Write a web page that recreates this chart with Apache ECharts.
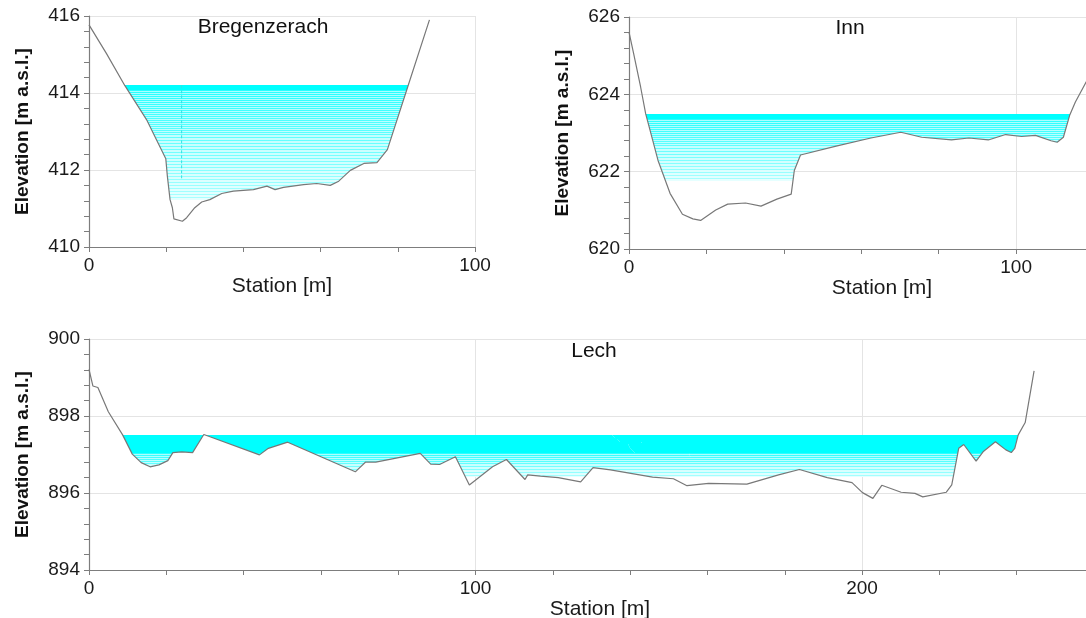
<!DOCTYPE html>
<html><head><meta charset="utf-8">
<script src="https://cdn.jsdelivr.net/npm/echarts@6/dist/echarts.min.js"></script>
<style>html,body{margin:0;padding:0;background:#fff}#c{width:1086px;height:618px}</style>
</head><body><div id="c"></div>
<script>
// ---------- DATA ----------
const titles = ['Bregenzerach', 'Inn', 'Lech'];
const xAxisTitle = 'Station [m]';
const yAxisTitle = 'Elevation [m a.s.l.]';

// Bregenzerach cross-section
const bregStation = [0, 4.5, 9.3, 14.9, 19.9, 20.3, 21.0, 21.6, 22.0, 24.2, 25.3, 27.4, 29.2, 31.3, 34.4, 37.4, 42.6, 46.1, 48.2, 50.4, 55.6, 59.0, 62.5, 64.7, 67.7, 71.2, 74.6, 77.3, 82.6, 88.2];
const bregElevation = [415.77, 415.03, 414.19, 413.31, 412.29, 411.84, 411.23, 411.02, 410.73, 410.67, 410.76, 411.02, 411.17, 411.23, 411.39, 411.45, 411.49, 411.58, 411.49, 411.55, 411.62, 411.65, 411.60, 411.71, 411.99, 412.17, 412.19, 412.53, 414.17, 415.90];
const bregWaterLevel = 414.2;
const bregShadeFloor = 411.23;
const bregGaugeStation = [24.0, 24.0];
const bregGaugeElevation = [414.2, 411.77];
const bregYRange = [410, 416];
const bregXRange = [0, 100];

// Inn cross-section
const innStation = [0, 1.2, 3.0, 4.3, 7.5, 10.6, 13.8, 16.5, 18.5, 22.4, 25.5, 30.1, 34.1, 38.2, 41.9, 42.7, 44.3, 53.5, 62.5, 70.2, 75.6, 83.3, 87.8, 92.8, 97.3, 101.4, 105.0, 109.0, 110.6, 112.2, 113.8, 115.3, 118.3];
const innElevation = [625.61, 625.05, 624.19, 623.50, 622.29, 621.44, 620.90, 620.78, 620.74, 621.01, 621.16, 621.19, 621.11, 621.29, 621.42, 622.03, 622.43, 622.66, 622.87, 623.02, 622.89, 622.82, 622.87, 622.82, 622.96, 622.91, 622.94, 622.80, 622.76, 622.89, 623.45, 623.80, 624.36];
const innWaterLevel = 623.5;
const innShadeFloor = 621.76;
const innYRange = [620, 626];
const innXRange = [0, 130.7];

// Lech cross-section
const lechStation = [0, 1.0, 2.3, 5.0, 8.7, 11.2, 13.5, 15.8, 18.1, 20.4, 21.7, 24.0, 26.8, 29.7, 31.3, 44.1, 46.4, 51.4, 68.9, 71.5, 74.2, 85.7, 88.4, 90.7, 94.8, 98.4, 104.4, 108.0, 112.8, 113.5, 116.8, 121.4, 127.2, 130.4, 134.9, 145.8, 151.2, 154.7, 160.3, 170.2, 178.4, 183.8, 191.0, 197.4, 200.1, 202.8, 205.1, 210.1, 213.7, 215.7, 221.8, 223.2, 225.0, 226.3, 229.5, 231.3, 234.5, 237.2, 238.6, 239.5, 240.4, 242.2, 244.5];
const lechElevation = [899.21, 898.78, 898.74, 898.11, 897.51, 897.01, 896.79, 896.68, 896.73, 896.84, 897.05, 897.07, 897.05, 897.52, 897.46, 896.99, 897.16, 897.32, 896.55, 896.80, 896.80, 897.03, 896.75, 896.74, 896.94, 896.21, 896.68, 896.87, 896.35, 896.47, 896.44, 896.40, 896.29, 896.66, 896.60, 896.41, 896.37, 896.19, 896.25, 896.23, 896.47, 896.61, 896.40, 896.27, 896.01, 895.86, 896.20, 896.02, 895.99, 895.90, 896.02, 896.21, 897.16, 897.26, 896.83, 897.07, 897.33, 897.12, 897.05, 897.16, 897.51, 897.83, 899.17];
const lechWaterLevel = 897.5;
const lechShadeFloor = 896.42;
const lechYRange = [894, 900];
const lechXRange = [0, 264.4];

// ---------- CHART ----------
const FONT = '"Liberation Sans", Arial, sans-serif';
const AXIS_GRAY = '#7d7d7d';
const GRID_GRAY = '#e4e4e4';

function zip(a, b) { return a.map((v, i) => [v, b[i]]); }

function wetSpans(st, el, h) {
  const spans = []; let start = null;
  for (let i = 0; i < st.length - 1; i++) {
    const x0 = st[i], x1 = st[i + 1], e0 = el[i], e1 = el[i + 1];
    const w0 = e0 < h, w1 = e1 < h;
    if (w0 && start === null) start = x0;
    if (w0 && !w1) { spans.push([start, x0 + (h - e0) / (e1 - e0) * (x1 - x0)]); start = null; }
    else if (!w0 && w1) { start = x0 + (h - e0) / (e1 - e0) * (x1 - x0); }
  }
  if (start !== null) spans.push([start, st[st.length - 1]]);
  return spans;
}

function waterSeries(idx, st, el, wl, floor, solid) {
  return {
    type: 'custom', xAxisIndex: idx, yAxisIndex: idx, z: 1, silent: true, clip: true,
    data: [[st[0], wl]],
    renderItem: function (params, api) {
      const top = api.coord([0, wl])[1], bot = api.coord([0, floor])[1];
      const kids = [];
      let y = Math.round(top) + 0.5;
      let nextLine = y;
      while (y <= bot + 0.5) {
        const t = Math.min(1, Math.max(0, (y - top) / (bot - top)));
        const h = wl - t * (wl - floor);
        let color;
        const u = Math.max(0, (t - solid) / (1 - solid));
        if (t <= solid) { color = 'rgb(0,255,255)'; nextLine = y + 1; }
        else if (y >= nextLine) {
          color = 'rgb(' + Math.round(40 + u * 130) + ',255,255)';
          nextLine = y + (u < 0.4 ? 2 : 3);
        } else {
          color = 'rgb(' + Math.round(170 + u * 60) + ',255,255)';
        }
        const spans = wetSpans(st, el, h);
        for (const s of spans) {
          const p = api.coord([s[0], h]), q = api.coord([s[1], h]);
          kids.push({ type: 'line', shape: { x1: p[0], y1: y, x2: q[0], y2: y }, style: { stroke: color, lineWidth: 1 } });
        }
        y += 1;
      }
      return { type: 'group', children: kids };
    }
  };
}

function terrainSeries(idx, st, el) {
  return {
    type: 'line', xAxisIndex: idx, yAxisIndex: idx, z: 3, silent: true,
    data: zip(st, el), symbol: 'none', animation: false,
    lineStyle: { color: '#787878', width: 1.2 }
  };
}

function xAxis(idx, range) {
  return {
    type: 'value', gridIndex: idx, min: range[0], max: range[1], interval: 100,
    name: xAxisTitle, nameLocation: 'middle', nameGap: 29,
    nameTextStyle: { fontFamily: FONT, fontSize: 21, color: '#1a1a1a' },
    axisLine: { show: true, onZero: false, lineStyle: { color: AXIS_GRAY, width: 1.2 } },
    axisTick: { show: true, length: 5, lineStyle: { color: AXIS_GRAY } },
    minorTick: { show: true, splitNumber: 5, length: 5, lineStyle: { color: AXIS_GRAY } },
    axisLabel: { fontFamily: FONT, fontSize: 19, color: '#1a1a1a', margin: 9, showMaxLabel: range[1] % 100 === 0 },
    splitLine: { show: true, lineStyle: { color: GRID_GRAY } }
  };
}

function yAxis(idx, range) {
  return {
    type: 'value', gridIndex: idx, min: range[0], max: range[1], interval: 2,
    name: yAxisTitle, nameLocation: 'middle', nameGap: 57,
    nameTextStyle: { fontFamily: FONT, fontSize: 19, fontWeight: 'bold', color: '#111' },
    axisLine: { show: true, lineStyle: { color: AXIS_GRAY, width: 1.2 } },
    axisTick: { show: true, length: 5, lineStyle: { color: AXIS_GRAY } },
    minorTick: { show: true, splitNumber: 5, length: 5, lineStyle: { color: AXIS_GRAY } },
    axisLabel: { fontFamily: FONT, fontSize: 19, color: '#1a1a1a', margin: 9 },
    splitLine: { show: true, lineStyle: { color: GRID_GRAY } }
  };
}

const chart = echarts.init(document.getElementById('c'), null, { renderer: 'canvas' });
chart.setOption({
  animation: false,
  backgroundColor: '#ffffff',
  grid: [
    { left: 89, top: 16, width: 386, height: 231, outerBoundsMode: 'none', containLabel: false },
    { left: 629, top: 17, width: 506, height: 232, outerBoundsMode: 'none', containLabel: false },
    { left: 89, top: 339, width: 1022, height: 231, outerBoundsMode: 'none', containLabel: false }
  ],
  xAxis: [xAxis(0, bregXRange), xAxis(1, innXRange), xAxis(2, lechXRange)],
  yAxis: [yAxis(0, bregYRange), yAxis(1, innYRange), yAxis(2, lechYRange)],
  graphic: [
    { type: 'text', x: 263, y: 27, style: { text: titles[0], font: '21px ' + FONT, fill: '#111', align: 'center', verticalAlign: 'middle' } },
    { type: 'text', x: 850, y: 28, style: { text: titles[1], font: '21px ' + FONT, fill: '#111', align: 'center', verticalAlign: 'middle' } },
    { type: 'text', x: 594, y: 351, style: { text: titles[2], font: '21px ' + FONT, fill: '#111', align: 'center', verticalAlign: 'middle' } }
  ],
  series: [
    waterSeries(0, bregStation, bregElevation, bregWaterLevel, bregShadeFloor, 0.04),
    {
      type: 'line', xAxisIndex: 0, yAxisIndex: 0, z: 2, silent: true, symbol: 'none',
      data: zip(bregGaugeStation, bregGaugeElevation),
      lineStyle: { color: '#2fe3e3', width: 1, type: [3, 2] }
    },
    terrainSeries(0, bregStation, bregElevation),
    waterSeries(1, innStation, innElevation, innWaterLevel, innShadeFloor, 0.08),
    terrainSeries(1, innStation, innElevation),
    waterSeries(2, lechStation, lechElevation, lechWaterLevel, lechShadeFloor, 0.42),
    terrainSeries(2, lechStation, lechElevation)
  ]
});
</script>
</body></html>
